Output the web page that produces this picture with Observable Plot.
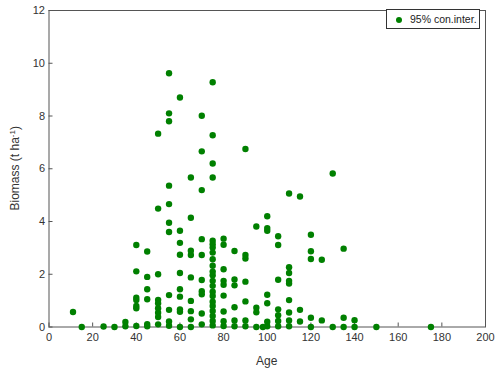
<!DOCTYPE html>
<html><head><meta charset="utf-8">
<script src="https://cdn.jsdelivr.net/npm/d3@7"></script>
<script src="https://cdn.jsdelivr.net/npm/@observablehq/plot@0.6"></script>
<style>
body{margin:0;background:#fff;font-family:"Liberation Sans",Arial,sans-serif;}
#wrap{position:relative;width:500px;height:375px;}
#legend{position:absolute;left:386px;top:9px;width:94px;height:20px;border:1px solid #333;background:#fff;font-size:10.5px;color:#222;box-sizing:border-box;}
#legend .dot{position:absolute;left:9px;top:7px;width:6px;height:6px;border-radius:50%;background:#008000;}
#legend .txt{position:absolute;left:23px;top:3px;white-space:nowrap;}
</style></head><body><div id="wrap"></div>
<script>
// ages (stand age, years) and biomass values observed at each age (t ha^-1)
const ages = [11, 15, 25, 30, 35, 40, 45, 50, 55, 60, 65, 70, 75, 80, 85, 90, 95, 98, 100, 105, 110, 115, 120, 125, 130, 135, 140, 150, 175];
const biomass = [
  [0.57],
  [0.0],
  [0.02],
  [0.0],
  [0.19, 0.03],
  [3.11, 2.11, 1.11, 1.02, 0.8, 0.71, 0.04],
  [2.86, 1.9, 1.43, 1.05, 0.11, 0.03],
  [7.33, 4.49, 2.0, 1.03, 0.9, 0.71, 0.54, 0.38, 0.1],
  [9.62, 8.1, 7.8, 5.36, 4.66, 3.95, 3.6, 1.21, 0.65, 0.21, 0.05],
  [8.7, 3.65, 3.19, 2.74, 2.05, 1.43, 1.15, 0.67, 0.58, 0.0],
  [5.67, 4.14, 2.89, 2.73, 1.88, 0.99, 0.6, 0.29, 0.0],
  [8.01, 6.66, 5.19, 3.33, 2.73, 1.78, 1.36, 1.24, 0.51, 0.1],
  [9.28, 7.27, 6.2, 5.67, 3.27, 3.14, 3.01, 2.82, 2.57, 2.32, 2.1, 1.96, 1.75, 1.56, 1.34, 1.18, 0.96, 0.8, 0.61, 0.42, 0.23, 0.06],
  [3.35, 3.12, 2.19, 1.75, 1.6, 1.19, 0.59, 0.22, 0.04],
  [2.88, 1.8, 1.58, 0.75, 0.25, 0.03],
  [6.75, 2.73, 2.6, 1.72, 0.97, 0.25, 0.03],
  [3.81, 0.73, 0.56, 0.0],
  [0.0],
  [4.2, 3.75, 3.65, 1.22, 0.9, 0.2, 0.03],
  [3.44, 3.11, 1.79, 0.67, 0.45, 0.23, 0.03],
  [5.06, 2.27, 2.05, 1.75, 1.65, 1.02, 0.55, 0.25, 0.03],
  [4.95, 0.65, 0.21],
  [3.5, 2.87, 2.58, 0.35, 0.0],
  [2.55, 0.25],
  [5.82, 0.0],
  [2.97, 0.35, 0.0],
  [0.26, 0.0],
  [0.0],
  [0.0]
];
const xTicks = [0, 20, 40, 60, 80, 100, 120, 140, 160, 180, 200];
const yTicks = [0, 2, 4, 6, 8, 10, 12];
const xLabel = "Age";
const yLabel = "Biomass (t ha";
const yLabelSup = "-1";
const legendLabel = "95% con.inter.";

const data = ages.flatMap((a, i) => biomass[i].map(b => ({age: a, biomass: b})));

const chart = Plot.plot({
  width: 500, height: 375,
  marginLeft: 48.5, marginRight: 15, marginTop: 10, marginBottom: 48.5,
  style: {fontFamily: '"Liberation Sans", Arial, sans-serif', fontSize: "11px", color: "#333", background: "#fff"},
  x: {domain: [0, 200], ticks: xTicks, label: null},
  y: {domain: [0, 12], ticks: yTicks, label: null},
  marks: [
    Plot.frame({stroke: "#555"}),
    Plot.axisX(xTicks, {tickSize: -4, tickPadding: 10, label: null, stroke: "#555"}),
    Plot.axisY(yTicks, {tickSize: -4, tickPadding: 8, label: null, stroke: "#555"}),
    Plot.dot(data, {x: "age", y: "biomass", r: 3.2, fill: "#008000", stroke: null})
  ]
});

const svg = d3.select(chart);
const xr = chart.scale("x").range, yr = chart.scale("y").range;
svg.append("text")
  .attr("x", (xr[0] + xr[1]) / 2).attr("y", 365)
  .attr("text-anchor", "middle").attr("font-size", 12).attr("fill", "#333")
  .text(xLabel);
const yl = svg.append("text")
  .attr("transform", `translate(19,${(yr[0] + yr[1]) / 2}) rotate(-90)`)
  .attr("text-anchor", "middle").attr("font-size", 12).attr("fill", "#333");
yl.append("tspan").text(yLabel);
yl.append("tspan").attr("dy", -4).attr("font-size", 8).text(yLabelSup);
yl.append("tspan").attr("dy", 4).text(")");

const wrap = document.getElementById("wrap");
wrap.appendChild(chart);
const lg = document.createElement("div");
lg.id = "legend";
lg.innerHTML = `<span class="dot"></span><span class="txt"></span>`;
lg.querySelector(".txt").textContent = legendLabel;
wrap.appendChild(lg);
</script></body></html>
